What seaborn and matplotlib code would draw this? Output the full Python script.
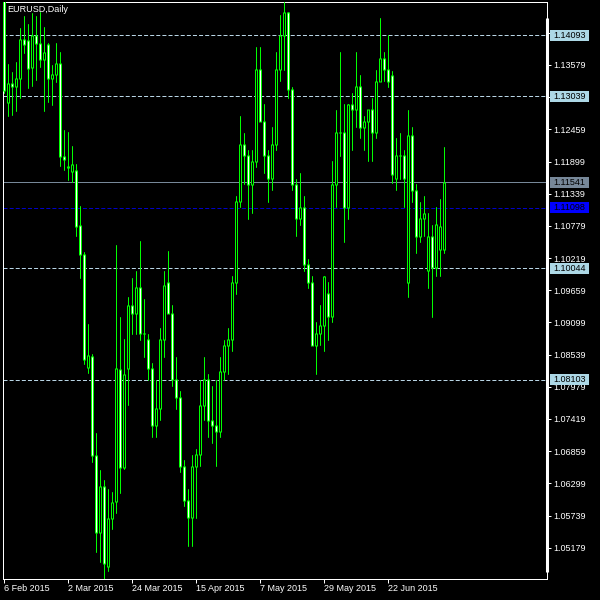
import numpy as np
import pandas as pd
import seaborn as sns
import matplotlib.pyplot as plt
import matplotlib.transforms as mtransforms
from matplotlib.patches import Rectangle

# EURUSD daily, 6 Feb 2015 .. 10 Jul 2015
dates = pd.bdate_range('2015-02-06', '2015-07-10')

opens = [1.1478, 1.1293, 1.1325, 1.1320, 1.1334, 1.1403, 1.1400, 1.1353, 1.1410, 1.1396,
         1.1367, 1.1394, 1.1334, 1.1341, 1.1360, 1.1198, 1.1182, 1.1173, 1.1175, 1.1078,
         1.1029, 1.0831, 1.0851, 1.0679, 1.0545, 1.0625, 1.0485, 1.0568, 1.0599, 1.0828,
         1.0657, 1.0830, 1.0940, 1.0925, 1.0970, 1.0890, 1.0880, 1.0830, 1.0730, 1.0760,
         1.0880, 1.0980, 1.0925, 1.0810, 1.0780, 1.0660, 1.0600, 1.0570, 1.0660, 1.0680,
         1.0765, 1.0810, 1.0740, 1.0730, 1.0720, 1.0825, 1.0870, 1.0880, 1.0980, 1.1120,
         1.1220, 1.1200, 1.1150, 1.1190, 1.1350, 1.1260, 1.1200, 1.1160, 1.1220, 1.1350,
         1.1410, 1.1450, 1.1315, 1.1150, 1.1090, 1.1110, 1.1010, 1.0980, 1.0870, 1.0890,
         1.0905, 1.0960, 1.0920, 1.1150, 1.1240, 1.1240, 1.1110, 1.1290, 1.1280, 1.1320,
         1.1250, 1.1260, 1.1280, 1.1240, 1.1330, 1.1370, 1.1350, 1.1339, 1.1160, 1.1200,
         1.1200, 1.0980, 1.1235, 1.1140, 1.1060, 1.1090, 1.1000, 1.1060, 1.1005, 1.1036,
         1.1036]
highs = [1.1487, 1.1360, 1.1346, 1.1363, 1.1422, 1.1443, 1.1429, 1.1448, 1.1443, 1.1450,
         1.1424, 1.1396, 1.1358, 1.1396, 1.1380, 1.1245, 1.1241, 1.1217, 1.1186, 1.1113,
         1.1033, 1.0907, 1.0855, 1.0718, 1.0653, 1.0636, 1.0620, 1.0614, 1.1044, 1.0919,
         1.0881, 1.0955, 1.0988, 1.1000, 1.1052, 1.0950, 1.0890, 1.0840, 1.0810, 1.0900,
         1.1000, 1.1035, 1.0940, 1.0850, 1.0790, 1.0670, 1.0620, 1.0680, 1.0690, 1.0810,
         1.0850, 1.0820, 1.0800, 1.0810, 1.0850, 1.0880, 1.0900, 1.0990, 1.1130, 1.1270,
         1.1240, 1.1210, 1.1210, 1.1390, 1.1390, 1.1290, 1.1210, 1.1250, 1.1380, 1.1445,
         1.1467, 1.1450, 1.1320, 1.1160, 1.1170, 1.1130, 1.1020, 1.0990, 1.0910, 1.0940,
         1.0990, 1.0980, 1.1190, 1.1280, 1.1380, 1.1290, 1.1290, 1.1310, 1.1380, 1.1340,
         1.1270, 1.1280, 1.1300, 1.1350, 1.1440, 1.1380, 1.1410, 1.1347, 1.1230, 1.1240,
         1.1210, 1.1280, 1.1250, 1.1150, 1.1120, 1.1130, 1.1100, 1.1080, 1.1110, 1.1125,
         1.1215]
lows = [1.1309, 1.1269, 1.1271, 1.1278, 1.1300, 1.1379, 1.1318, 1.1321, 1.1332, 1.1354,
        1.1278, 1.1294, 1.1288, 1.1328, 1.1182, 1.1175, 1.1158, 1.1154, 1.1060, 1.0987,
        1.0838, 1.0822, 1.0667, 1.0510, 1.0493, 1.0463, 1.0477, 1.0551, 1.0578, 1.0613,
        1.0655, 1.0766, 1.0890, 1.0890, 1.0880, 1.0850, 1.0810, 1.0710, 1.0710, 1.0740,
        1.0850, 1.0930, 1.0800, 1.0760, 1.0650, 1.0590, 1.0520, 1.0520, 1.0570, 1.0660,
        1.0740, 1.0710, 1.0700, 1.0660, 1.0710, 1.0810, 1.0820, 1.0860, 1.0960, 1.1110,
        1.1150, 1.1090, 1.1100, 1.1180, 1.1260, 1.1170, 1.1120, 1.1140, 1.1210, 1.1330,
        1.1350, 1.1300, 1.1140, 1.1060, 1.1080, 1.1000, 1.0970, 1.0870, 1.0820, 1.0870,
        1.0860, 1.0880, 1.0910, 1.1110, 1.1200, 1.1050, 1.1090, 1.1210, 1.1250, 1.1230,
        1.1210, 1.1190, 1.1190, 1.1230, 1.1330, 1.1330, 1.1320, 1.1152, 1.1140, 1.1160,
        1.1110, 1.0955, 1.1120, 1.1030, 1.1050, 1.1060, 1.0970, 1.0920, 1.0990, 1.0991,
        1.1030]
closes = [1.1313, 1.1325, 1.1321, 1.1335, 1.1403, 1.1393, 1.1351, 1.1410, 1.1396, 1.1367,
          1.1379, 1.1334, 1.1341, 1.1361, 1.1198, 1.1194, 1.1180, 1.1184, 1.1076, 1.1029,
          1.0845, 1.0853, 1.0679, 1.0545, 1.0625, 1.0491, 1.0568, 1.0597, 1.0829, 1.0657,
          1.0820, 1.0940, 1.0925, 1.0970, 1.0890, 1.0890, 1.0830, 1.0730, 1.0760, 1.0880,
          1.0975, 1.0925, 1.0810, 1.0780, 1.0660, 1.0600, 1.0570, 1.0660, 1.0680, 1.0765,
          1.0810, 1.0740, 1.0730, 1.0720, 1.0825, 1.0870, 1.0880, 1.0980, 1.1120, 1.1220,
          1.1200, 1.1150, 1.1190, 1.1350, 1.1260, 1.1200, 1.1160, 1.1220, 1.1350, 1.1410,
          1.1450, 1.1315, 1.1150, 1.1090, 1.1110, 1.1010, 1.0980, 1.0870, 1.0890, 1.0905,
          1.0990, 1.0920, 1.1150, 1.1240, 1.1240, 1.1110, 1.1290, 1.1280, 1.1320, 1.1250,
          1.1260, 1.1280, 1.1240, 1.1330, 1.1370, 1.1350, 1.1330, 1.1168, 1.1200, 1.1200,
          1.1160, 1.1235, 1.1140, 1.1060, 1.1090, 1.1100, 1.1060, 1.1005, 1.1080, 1.1076,
          1.1154]

price_ticks = ['1.05179', '1.05739', '1.06299', '1.06859', '1.07419', '1.07979', '1.08539',
               '1.09099', '1.09659', '1.10219', '1.10779', '1.11339', '1.11899', '1.12459',
               '1.13019', '1.13579', '1.14139']
hidden_ticks = ['1.13019', '1.14139']   # covered by the level boxes
level_lines = [1.14093, 1.13039, 1.10044, 1.08103]
bid_price = 1.11541
ask_price = 1.11098
date_ticks = [0, 16, 32, 48, 64, 80, 96]

df = pd.DataFrame({'date': dates, 'open': opens, 'high': highs, 'low': lows, 'close': closes})
df['bar'] = np.arange(len(df))
df['bear'] = df['close'] < df['open']
df['body_lo'] = df[['open', 'close']].min(axis=1)
df['body_hi'] = df[['open', 'close']].max(axis=1)

sns.set_theme(style='dark', rc={
    'figure.facecolor': 'black', 'axes.facecolor': 'black',
    'axes.edgecolor': 'white', 'text.color': 'white',
    'xtick.color': 'white', 'ytick.color': 'white',
    'lines.scale_dashes': False,
})
plt.rcParams['font.family'] = ['Liberation Sans', 'DejaVu Sans']

fig = plt.figure(figsize=(6, 6), dpi=100)
W, H = 600.0, 600.0
left_px, right_px, top_px, bottom_px = 2.5, 547.0, 2.3, 579.0
ax = fig.add_axes([left_px / W, 1 - bottom_px / H, (right_px - left_px) / W, (bottom_px - top_px) / H])

lime = '#00ff00'
px = 0.72  # one pixel in points

p0, p1 = 1.13579, 1.05179
ppu = (547.7 - 65.0) / (p0 - p1)   # pixels per price unit
onepx = 1.0 / ppu

# wicks: one line per bar, high to low
wick = pd.concat([df[['bar', 'low']].rename(columns={'low': 'price'}),
                  df[['bar', 'high']].rename(columns={'high': 'price'})])
sns.lineplot(data=wick, x='bar', y='price', units='bar', estimator=None, sort=False,
             color=lime, lw=px, legend=False, ax=ax, zorder=3)

# bodies as thick lines: 3 px lime frame, 1 px white (bear) or black (bull) core
ax.vlines(df['bar'], df['body_lo'] - onepx / 2, df['body_hi'] + onepx / 2,
          color=lime, lw=3 * px, zorder=6, capstyle='butt')
core = df[(df['body_hi'] - df['body_lo']) > onepx]
ax.vlines(core['bar'], core['body_lo'] + onepx / 2, core['body_hi'] - onepx / 2,
          color=['white' if b else 'black' for b in core['bear']], lw=px, zorder=7, capstyle='butt')

# horizontal price lines
for lv in level_lines:
    ax.axhline(lv, color='#b8d4e4', lw=px, dashes=(2.9, 1.5), zorder=2)
ax.axhline(bid_price, color='#778899', lw=px, zorder=2)
ax.axhline(ask_price, color='#0000c8', lw=px, dashes=(2.9, 1.5), zorder=2)

ax.set_xlim(-0.25, -0.25 + (right_px - left_px) / 4.0)
ax.set_ylim(p0 - (bottom_px - 65.0) / ppu, p0 + (65.0 - top_px) / ppu)

ax.yaxis.tick_right()
ax.set_yticks([float(t) for t in price_ticks])
ax.set_yticklabels(['' if t in hidden_ticks else t for t in price_ticks])
ax.set_xticks(date_ticks)
ax.set_xticklabels([f"{d.day} {d.strftime('%b %Y')}" for d in df['date'].iloc[date_ticks]], ha='left')
ax.tick_params(axis='y', length=3, width=px, pad=1.5, labelsize=6.5, colors='white', right=True, left=False)
ax.tick_params(axis='x', length=3, width=px, pad=0.8, labelsize=6.5, colors='white', bottom=True)
ax.set_xlabel('')
ax.set_ylabel('')
ax.grid(False)
for s in ax.spines.values():
    s.set_color('white')
    s.set_linewidth(px)

# thick price scale line on the right
ax.plot([1.0, 1.0], [(bottom_px - 572) / (bottom_px - top_px), (bottom_px - 18) / (bottom_px - top_px)],
        transform=ax.transAxes, color='white', lw=2.2, clip_on=False, zorder=8, solid_capstyle='butt')

# price labels on the scale
trans = mtransforms.blended_transform_factory(ax.transAxes, ax.transData)
box_x = (550 - left_px) / (right_px - left_px)
box_w = 39 / (right_px - left_px)
box_h = 11 / ppu
labels = [(lv, '#add8e6') for lv in level_lines] + [(bid_price, '#778899'), (ask_price, '#0000ff')]
for val, col in labels:
    ax.add_patch(Rectangle((box_x, val - box_h / 2), box_w, box_h, transform=trans,
                           facecolor=col, edgecolor='none', clip_on=False, zorder=10))
    ax.text(box_x + 3 / (right_px - left_px), val, f'{val:.5f}', transform=trans, color='black',
            fontsize=6.5, va='center', ha='left', zorder=11, clip_on=False)

fig.text(7 / W, 1 - 9.5 / H, 'EURUSD,Daily', color='white', fontsize=6.5, va='center', ha='left')

fig.savefig('out.png', dpi=100, facecolor='black')
